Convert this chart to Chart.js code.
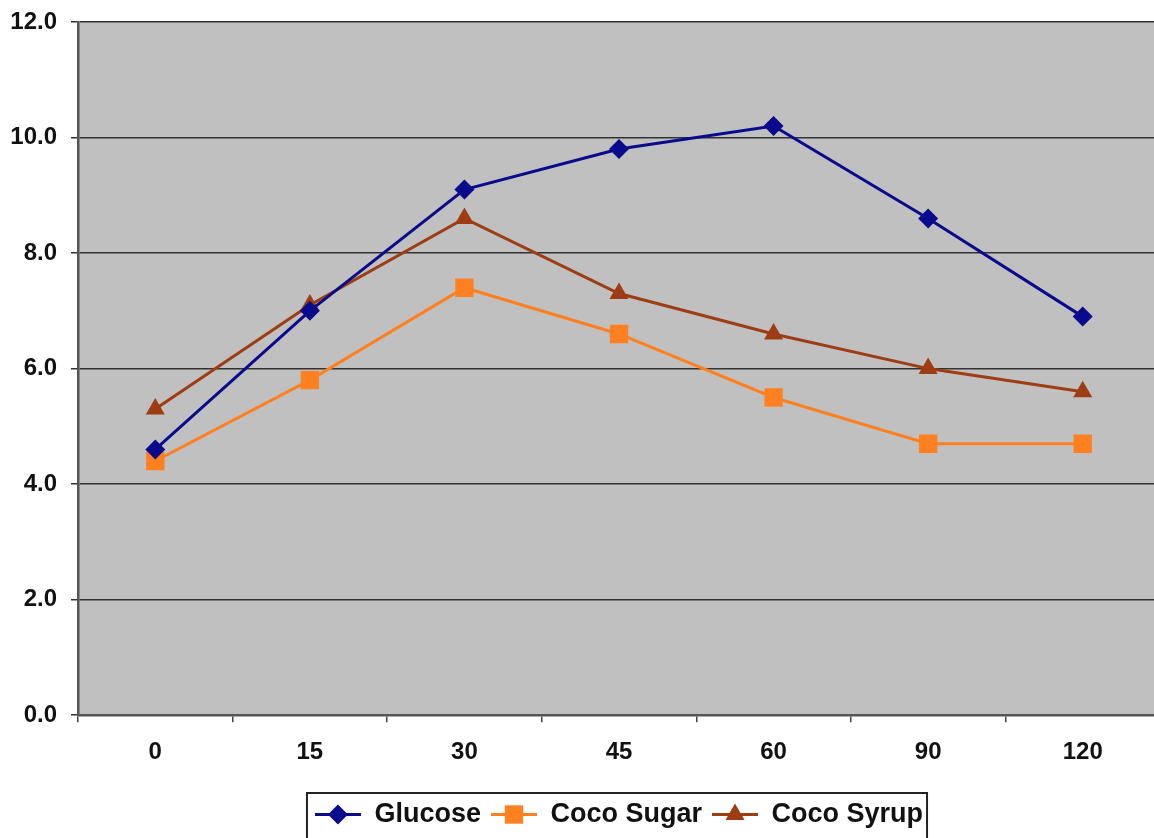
<!DOCTYPE html>
<html>
<head>
<meta charset="utf-8">
<script src="https://cdn.jsdelivr.net/npm/chart.js@4"></script>
<style>
  html, body { margin: 0; padding: 0; background: #fff; overflow: hidden; }
  #wrap { width: 1173px; height: 838px; }
</style>
</head>
<body>
<div id="wrap"><canvas id="glicemia"></canvas></div>
<script>
const minutos = ["0", "15", "30", "45", "60", "90", "120"];
const glucose = [4.6, 7.0, 9.1, 9.8, 10.2, 8.6, 6.9];
const cocoSugar = [4.4, 5.8, 7.4, 6.6, 5.5, 4.7, 4.7];
const cocoSyrup = [5.3, 7.1, 8.6, 7.3, 6.6, 6.0, 5.6];

const fonte = "'Liberation Sans', Arial, sans-serif";

// fundo cinza da area do grafico
const fundoCinza = {
  id: "fundoCinza",
  beforeDraw(chart) {
    const { ctx, chartArea: a } = chart;
    ctx.save();
    ctx.fillStyle = "#c0c0c0";
    ctx.fillRect(a.left, a.top, a.right - a.left, a.bottom - a.top);
    ctx.restore();
  },
};

// legenda com linha + marcador e moldura
const legendaMoldura = {
  id: "legendaMoldura",
  afterDraw(chart) {
    const lg = chart.legend;
    const boxes = lg.legendHitBoxes;
    if (!boxes || !boxes.length) return;
    const ctx = chart.ctx;
    const bw = lg.options.labels.boxWidth;
    ctx.save();
    boxes.forEach((b, i) => {
      const ds = chart.data.datasets[i];
      const cy = b.top + b.height / 2;
      ctx.strokeStyle = ds.borderColor;
      ctx.lineWidth = 3;
      ctx.beginPath();
      ctx.moveTo(b.left, cy);
      ctx.lineTo(b.left + bw, cy);
      ctx.stroke();
      ctx.fillStyle = ds.backgroundColor;
      Chart.helpers.drawPoint(ctx, {
        pointStyle: ds.pointStyle,
        radius: ds.pointRadius,
        rotation: 0,
        borderWidth: 0,
      }, b.left + bw / 2, cy);
    });
    const first = boxes[0];
    const last = boxes[boxes.length - 1];
    const x0 = first.left - 8;
    const x1 = last.left + last.width + 4;
    const y0 = first.top - 8;
    const y1 = first.top + first.height + 12;
    ctx.strokeStyle = "#222";
    ctx.lineWidth = 2;
    ctx.strokeRect(x0, y0, x1 - x0, y1 - y0);
    ctx.restore();
  },
};

new Chart(document.getElementById("glicemia"), {
  type: "line",
  data: {
    labels: minutos,
    datasets: [
      {
        label: "Glucose",
        data: glucose,
        borderColor: "#0a0a8c",
        backgroundColor: "#0a0a8c",
        borderWidth: 3,
        pointStyle: "rectRot",
        pointRadius: 10,
        pointBorderWidth: 0,
      },
      {
        label: "Coco Sugar",
        data: cocoSugar,
        borderColor: "#ff8020",
        backgroundColor: "#ff8020",
        borderWidth: 3,
        pointStyle: "rect",
        pointRadius: 13,
        pointBorderWidth: 0,
      },
      {
        label: "Coco Syrup",
        data: cocoSyrup,
        borderColor: "#9e3c14",
        backgroundColor: "#9e3c14",
        borderWidth: 3,
        pointStyle: "triangle",
        pointRadius: 11,
        pointBorderWidth: 0,
      },
    ],
  },
  options: {
    responsive: true,
    maintainAspectRatio: false,
    animation: false,
    layout: { padding: { top: 0, left: 0, right: 0, bottom: 0 } },
    plugins: {
      tooltip: { enabled: false },
      legend: {
        position: "bottom",
        fullSize: false,
        labels: {
          boxWidth: 46,
          boxHeight: 0,
          padding: 10,
          color: "#111",
          font: { family: fonte, size: 27, weight: "bold" },
          generateLabels(chart) {
            return Chart.defaults.plugins.legend.labels.generateLabels(chart).map((l) => ({
              ...l,
              fillStyle: "rgba(0,0,0,0)",
              strokeStyle: "rgba(0,0,0,0)",
              lineWidth: 0,
            }));
          },
        },
      },
    },
    scales: {
      x: {
        offset: true,
        grid: {
          offset: true,
          drawOnChartArea: false,
          tickLength: 7,
          color: "#444",
          lineWidth: 1.5,
        },
        border: { color: "#555", width: 2.5 },
        ticks: {
          color: "#111",
          padding: 16,
          font: { family: fonte, size: 24, weight: "bold" },
        },
        afterFit(scale) {
          scale.height += 8;
        },
      },
      y: {
        min: 0,
        max: 12,
        ticks: {
          stepSize: 2,
          color: "#111",
          padding: 14,
          font: { family: fonte, size: 24, weight: "bold" },
          callback: (v) => v.toFixed(1),
        },
        grid: {
          color: "#333",
          lineWidth: 1.5,
          tickLength: 7,
        },
        border: { color: "#555", width: 2.5 },
        afterFit(scale) {
          scale.width = 78;
          scale.paddingTop = 22;
        },
      },
    },
  },
  plugins: [fundoCinza, legendaMoldura],
});
</script>
</body>
</html>
